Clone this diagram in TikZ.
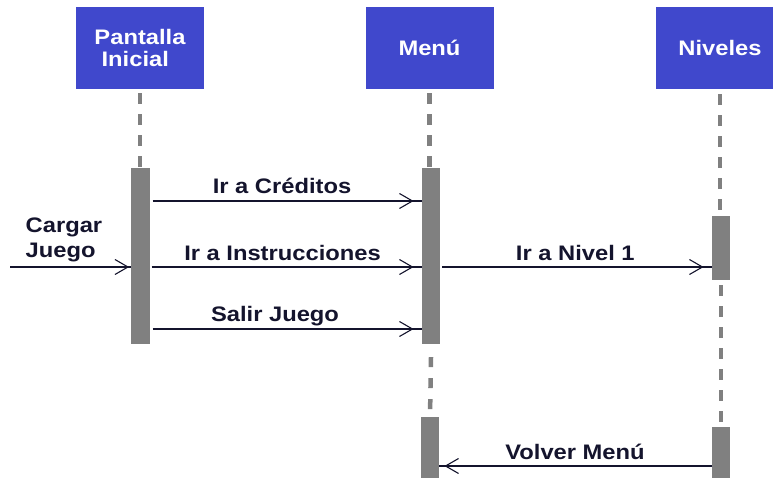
\documentclass[tikz,border=0pt]{standalone}
\usepackage{fontspec}
\setmainfont{Liberation Sans}[FakeStretch=1.13]
\usetikzlibrary{arrows.meta}
\definecolor{hdr}{RGB}{64,72,204}
\definecolor{barc}{RGB}{128,128,128}
\definecolor{ink}{RGB}{20,20,45}
\begin{document}
\begin{tikzpicture}[x=1pt,y=-1pt,
  head/.style={fill=hdr, text=white, font=\bfseries\fontsize{21}{22.5}\selectfont,
    align=center, minimum width=128pt, minimum height=82pt, inner sep=0pt},
  actbar/.style={fill=barc, draw=none, minimum width=18.5pt, inner sep=0pt},
  life/.style={draw=barc, line width=4.5pt, dash pattern=on 10.5pt off 10.5pt},
  lbl/.style={text=ink, font=\bfseries\fontsize{21}{25}\selectfont, inner sep=0pt, anchor=base},
  msg/.style={draw=ink, line width=1.3pt,
    postaction={draw=ink, line width=1.1pt, shorten >=#1,
      -{Straight Barb[length=13pt,width=15pt,line width=1.1pt]}}},
  msg/.default=8pt]
\useasboundingbox (0,0) rectangle (773,478);
\clip (0,0) rectangle (773,478);
\fill[white] (0,0) rectangle (773,478);

% headers
\node[head] (pi) at (140,48) {Pantalla\\Inicial\hspace*{0.45em}};
\node[head] (me) at (429.5,48) {Menú};
\node[head] (ni) at (720,48) {Niveles};

% activation bars
\node[actbar, minimum height=176pt] (pa) at (140.5,256) {};
\node[actbar, minimum height=176pt] (m1) at (431,256) {};
\node[actbar, minimum height=70pt, anchor=north] (m2) at (430,417) {};
\node[actbar, minimum height=64pt] (n1) at (721,248) {};
\node[actbar, minimum height=60pt, anchor=north] (n2) at (721,427) {};

% lifelines
\draw[life] ([yshift=-4pt]pi.south) -- (pi.south |- pa.north);
\draw[life] ([yshift=-4pt]me.south) -- (me.south |- m1.north);
\draw[life, dash pattern=on 10pt off 11pt] ([yshift=-13pt]m1.south) -- (m2.north);
\draw[life] ([yshift=-5pt]ni.south) -- (ni.south |- n1.north);
\draw[life, dash pattern=on 10.5pt off 10.5pt] ([yshift=-5pt]n1.south) -- (n2.north);

% messages
\coordinate (ext) at (10,267);
\draw[msg=2pt] (ext) -- (ext -| pa.west);
\node[lbl, anchor=north west, align=left] (lcj) at (25.5,217.5) {Cargar\\Juego};

\draw[msg] ([xshift=3pt]pa.east |- 0,201) -- (m1.west |- 0,201);
\node[lbl] (lcr) at (282,194) {Ir a Créditos};

\draw[msg] ([xshift=2pt]pa.east |- 0,267) -- (m1.west |- 0,267);
\node[lbl] (lin) at (282.5,260) {Ir a Instrucciones};

\draw[msg] ([xshift=3pt]pa.east |- 0,329) -- (m1.west |- 0,329);
\node[lbl] (lsa) at (275,321.7) {Salir Juego};

\draw[msg=8pt] ([xshift=2pt]m1.east |- 0,267) -- (n1.west |- 0,267);
\node[lbl] (lni) at (575.3,260) {Ir a Nivel 1};

\draw[msg=5pt] (n2.west |- 0,466) -- (m2.east |- 0,466);
\node[lbl] (lvo) at (575,459.3) {Volver Menú};
\end{tikzpicture}
\end{document}
